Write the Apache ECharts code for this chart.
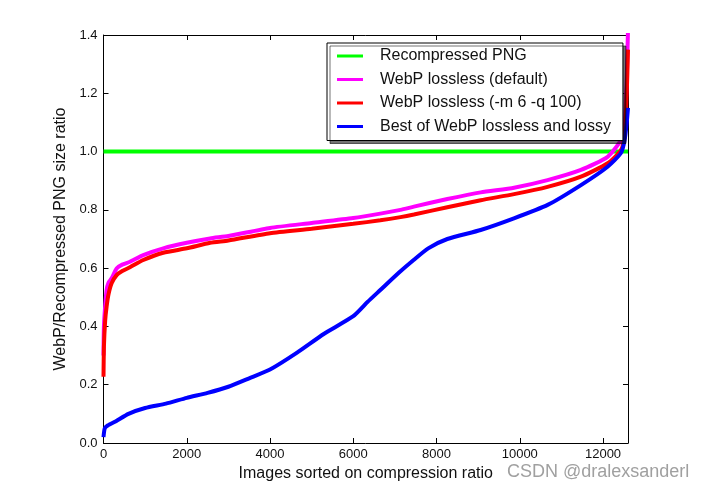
<!DOCTYPE html>
<html>
<head>
<meta charset="utf-8">
<script src="https://cdn.jsdelivr.net/npm/echarts@6/dist/echarts.min.js"></script>
<style>
html,body{margin:0;padding:0;background:#fff;}
#c{width:702px;height:491px;}
</style>
</head>
<body>
<div id="c"></div>
<script>
const seriesNames = ['Recompressed PNG', 'WebP lossless (default)', 'WebP lossless (-m 6 -q 100)', 'Best of WebP lossless and lossy'];
const xTicks = [0, 2000, 4000, 6000, 8000, 10000, 12000];
const yTicks = [0.0, 0.2, 0.4, 0.6, 0.8, 1.0, 1.2, 1.4];

const xGreen = [0, 12600];
const yGreen = [1.0, 1.0];

const xMagenta = [0, 10, 40, 75, 120, 195, 315, 450, 635, 955, 1436, 2000, 2561, 3000, 4000, 5000, 6000, 6650, 7134, 7457, 8260, 9062, 9864, 10667, 11469, 12111, 12432, 12520, 12570, 12600];
const yMagenta = [0.30, 0.40, 0.47, 0.525, 0.55, 0.565, 0.599, 0.612, 0.622, 0.645, 0.668, 0.687, 0.702, 0.71, 0.738, 0.755, 0.772, 0.787, 0.800, 0.811, 0.837, 0.860, 0.876, 0.902, 0.937, 0.982, 1.04, 1.1, 1.25, 1.42];

const xRed = [0, 10, 40, 75, 120, 195, 315, 450, 635, 955, 1436, 2000, 2561, 3000, 4000, 5000, 6000, 6650, 7134, 7457, 8260, 9062, 9864, 10667, 11469, 12111, 12432, 12520, 12570, 12600];
const yRed = [0.227, 0.33, 0.42, 0.468, 0.51, 0.548, 0.576, 0.59, 0.603, 0.628, 0.653, 0.668, 0.687, 0.695, 0.72, 0.735, 0.752, 0.764, 0.775, 0.784, 0.809, 0.833, 0.854, 0.879, 0.914, 0.960, 1.005, 1.06, 1.2, 1.35];

const xBlue = [0, 30, 100, 300, 600, 1000, 1500, 2000, 2500, 3000, 3500, 4000, 4650, 5300, 6000, 6350, 6650, 7100, 7450, 7800, 8260, 9060, 9860, 10670, 11470, 12110, 12430, 12520, 12570, 12600];
const yBlue = [0.02, 0.05, 0.06, 0.075, 0.1, 0.12, 0.135, 0.155, 0.172, 0.193, 0.222, 0.252, 0.31, 0.375, 0.435, 0.485, 0.525, 0.585, 0.628, 0.668, 0.70, 0.731, 0.771, 0.817, 0.885, 0.948, 0.995, 1.04, 1.1, 1.15];

const pair = (xs, ys) => xs.map((x, i) => [x, ys[i]]);
const FONT = 'Liberation Sans, Arial, sans-serif';
const colors = ['#00ff00', '#ff00ff', '#ff0000', '#0000ff'];

const chart = echarts.init(document.getElementById('c'), null, {renderer: 'canvas'});

const axisCommon = {
  axisLine: {show: true, onZero: false, lineStyle: {color: '#000', width: 1}},
  axisTick: {show: true, inside: true, length: 5, lineStyle: {color: '#000'}},
  splitLine: {show: false}
};

const xMin = xTicks[0], xMax = 12600, xInt = xTicks[1] - xTicks[0];
const yMin = yTicks[0], yMax = yTicks[yTicks.length - 1], yInt = 0.2;

const lineSeries = (i, xs, ys) => ({
  name: seriesNames[i], type: 'line', data: pair(xs, ys), showSymbol: false,
  smooth: 0.2,
  lineStyle: {width: 4, color: colors[i]}, clip: true
});

chart.setOption({
  animation: false,
  backgroundColor: '#fff',
  color: colors,
  grid: {left: 103.5, right: 74, top: 35, bottom: 48},
  xAxis: [
    Object.assign({}, axisCommon, {
      type: 'value', position: 'bottom', min: xMin, max: xMax, interval: xInt,
      name: 'Images sorted on compression ratio', nameLocation: 'middle', nameGap: 22,
      nameTextStyle: {fontFamily: FONT, fontSize: 16, color: '#111'},
      axisLabel: {fontFamily: FONT, fontSize: 13, color: '#111', margin: 5, showMaxLabel: false,
        formatter: v => (xTicks.indexOf(v) >= 0 ? String(v) : '')}
    }),
    Object.assign({}, axisCommon, {
      type: 'value', position: 'top', min: xMin, max: xMax, interval: xInt,
      axisLabel: {show: false}
    })
  ],
  yAxis: [
    Object.assign({}, axisCommon, {
      type: 'value', position: 'left', min: yMin, max: yMax, interval: yInt,
      name: 'WebP/Recompressed PNG size ratio', nameLocation: 'middle', nameGap: 28,
      nameTextStyle: {fontFamily: FONT, fontSize: 16, color: '#111'},
      axisLabel: {fontFamily: FONT, fontSize: 13, color: '#111', margin: 6,
        formatter: v => v.toFixed(1)}
    }),
    Object.assign({}, axisCommon, {
      type: 'value', position: 'right', min: yMin, max: yMax, interval: yInt,
      axisLabel: {show: false}
    })
  ],
  legend: {
    left: 327, top: 43, orient: 'vertical',
    backgroundColor: '#fff', borderColor: '#000', borderWidth: 1,
    shadowColor: 'rgba(0,0,0,0.55)', shadowBlur: 0, shadowOffsetX: 3, shadowOffsetY: 3,
    padding: [5, 12, 6, 10], itemGap: 7.5,
    icon: 'rect', itemWidth: 26, itemHeight: 3,
    textStyle: {fontFamily: FONT, fontSize: 16, color: '#111', padding: [0, 0, 0, 12]},
    data: seriesNames
  },
  graphic: [{
    type: 'text', left: 507, top: 463,
    style: {text: 'CSDN @dralexsanderl', font: '18px Liberation Sans, Arial, sans-serif', fill: '#a0a0a0'}
  }],
  series: [
    lineSeries(0, xGreen, yGreen),
    lineSeries(1, xMagenta, yMagenta),
    lineSeries(2, xRed, yRed),
    lineSeries(3, xBlue, yBlue)
  ]
});
</script>
</body>
</html>
